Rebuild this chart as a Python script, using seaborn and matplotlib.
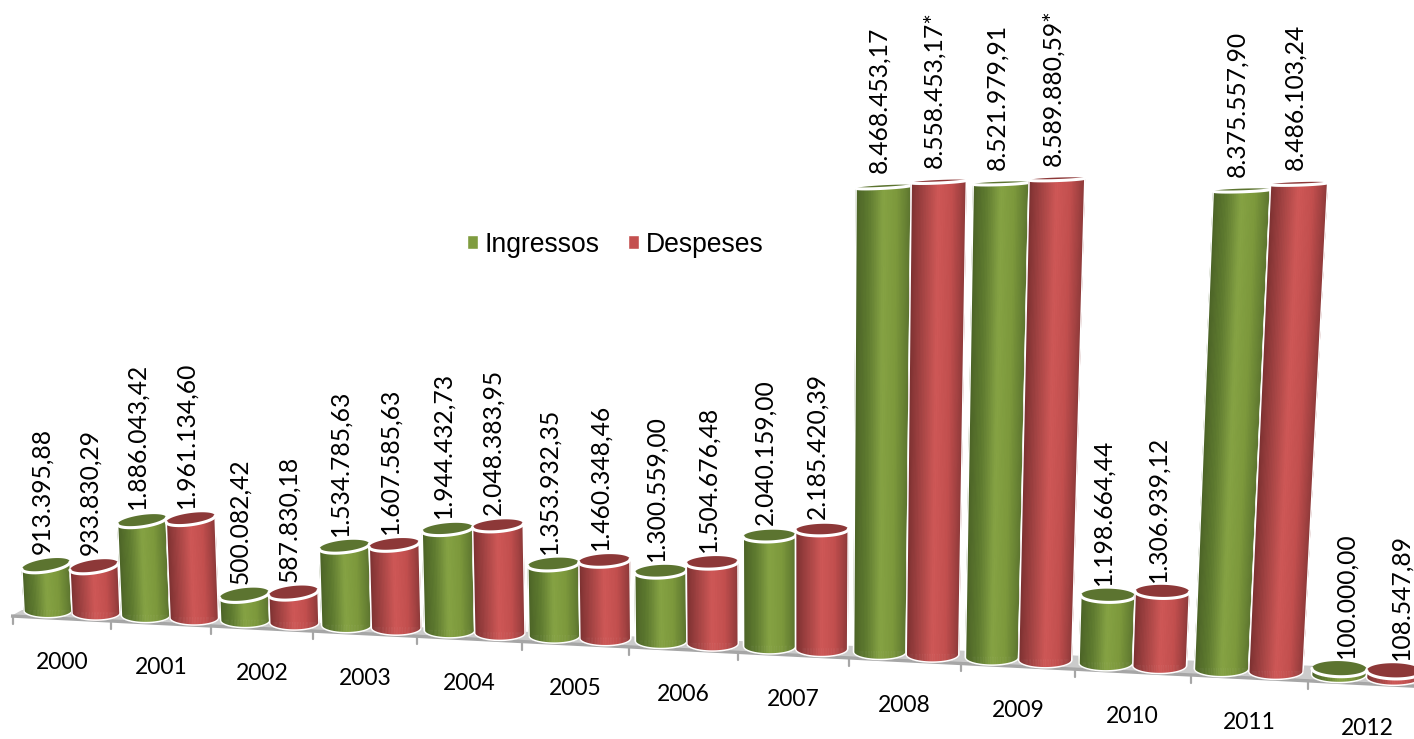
import numpy as np
import pandas as pd
import matplotlib
matplotlib.use("Agg")
import matplotlib.pyplot as plt
import matplotlib.transforms as mtrans
from matplotlib.collections import PolyCollection
from matplotlib.colors import LinearSegmentedColormap
import seaborn as sns

anos = ["2000", "2001", "2002", "2003", "2004", "2005", "2006", "2007", "2008", "2009", "2010", "2011", "2012"]
ingressos = [913395.88, 1886043.42, 500082.42, 1534785.63, 1944432.73, 1353932.35, 1300559.00,
             2040159.00, 8468453.17, 8521979.91, 1198664.44, 8375557.90, 100000.00]
despeses = [933830.29, 1961134.60, 587830.18, 1607585.63, 2048383.95, 1460348.46, 1504676.48,
            2185420.39, 8558453.17, 8589880.59, 1306939.12, 8486103.24, 108547.89]
etiq_ingressos = ["913.395,88", "1.886.043,42", "500.082,42", "1.534.785,63", "1.944.432,73", "1.353.932,35",
                  "1.300.559,00", "2.040.159,00", "8.468.453,17", "8.521.979,91", "1.198.664,44", "8.375.557,90",
                  "100.000,00"]
etiq_despeses = ["933.830,29", "1.961.134,60", "587.830,18", "1.607.585,63", "2.048.383,95", "1.460.348,46",
                 "1.504.676,48", "2.185.420,39", "8.558.453,17*", "8.589.880,59*", "1.306.939,12", "8.486.103,24",
                 "108.547,89"]

W, H = 1414, 739
VERD, VERMELL = "#7F9C3F", "#C4504F"
cmaps = {
    0: (LinearSegmentedColormap.from_list("v", ["#4A6226", "#5F7B30", "#86A344", "#7C983C", "#5C752F"]), "#5C7430"),
    1: (LinearSegmentedColormap.from_list("r", ["#7A3030", "#A54444", "#CF5857", "#C24F4E", "#8E3A3A"]), "#8D3838"),
}


def group_left(g):
    return 24 + 96.5 * g + 0.9 * g ** 2


def group_width(g):
    return 96 + 1.15 * g


def tilt(x):
    return min(-0.03, -0.2 + 0.17 * x / 1000)


def half_minor(y):
    return np.maximum(1.5, 1.5 + (y - 183) * 0.013)


class Projeccio(mtrans.Transform):
    """Data (category, value) -> slanted 3D-looking pixel position for one bar."""
    input_dims = 2
    output_dims = 2

    def __init__(self, xc):
        super().__init__()
        self.xc = xc
        self.g = int(round(xc))

    def base(self, x):
        return group_left(self.g) + (x + 0.5 - self.g) * group_width(self.g)

    def pixels(self, pts):
        pts = np.asarray(pts, float)
        x0 = self.base(pts[:, 0])
        yb = 610.5 + 0.0496 * (x0 - 45)
        escala = 4.95e-5 + (x0 - 45) * 6.5e-9
        h = pts[:, 1] * escala
        inclina = (x0 - 800) * 1e-4 * np.where(x0 < 800, 0.6, 1.0)
        x = x0 + inclina * h
        xc_px = self.base(self.xc)
        pend = np.where(pts[:, 1] > 0, tilt(xc_px), -0.05)
        y = yb - h + pend * (x0 - xc_px)
        return x, y

    def transform_non_affine(self, pts):
        x, y = self.pixels(pts)
        return np.column_stack([x, H - y])


df = pd.DataFrame({
    "any": anos * 2,
    "tipus": ["Ingressos"] * len(anos) + ["Despeses"] * len(anos),
    "valor": ingressos + despeses,
})

sns.set_theme(style="white")
plt.rcParams["font.family"] = ["Lato", "DejaVu Sans"]
fig = plt.figure(figsize=(W / 100, H / 100), dpi=100)
ax = fig.add_axes([0, 0, 1, 1])
sns.barplot(data=df, x="any", y="valor", hue="tipus", palette=[VERD, VERMELL], saturation=1,
            width=1.0, ax=ax, errorbar=None)
ax.set_axis_off()
pix = mtrans.Affine2D().scale(1, -1).translate(0, H)

# Floor
xf = np.array([11.0, W + 5])
yf = 616 + 0.05 * (xf - 11)
ax.add_patch(plt.Polygon(np.column_stack([[11, 22, W + 5, W + 5, 11],
                                          [616, 610, yf[1] - 16, yf[1], 616]]),
                         closed=True, fc="#CBCBCB", ec="none", transform=pix, zorder=0.5))
ax.plot(xf, yf, color="#A6A6A6", lw=2.4, transform=pix, zorder=0.6, solid_capstyle="butt")
for i in range(len(anos) + 1):
    xt = 13 + 97.5 * i + 0.87 * i ** 2
    yt = 616 + 0.05 * (xt - 11)
    ax.plot([xt, xt], [yt, yt + 8], color="#A6A6A6", lw=1.6, transform=pix, zorder=0.6)
    if i < len(anos):
        xm = 13 + 97.5 * (i + .5) + 0.87 * (i + .5) ** 2
        ax.text(xm, 663 + 0.05 * (xm - 62), anos[i], transform=pix, ha="center", va="center",
                fontsize=16.5, color="black")

theta = np.linspace(0, np.pi, 49)
t = (1 - np.cos(theta)) / 2
zo = 2.0
for s, (cont, etiq) in enumerate(zip(ax.containers, (etiq_ingressos, etiq_despeses))):
    cmap, cap = cmaps[s]
    for g, (p, text) in enumerate(zip(cont.patches, etiq)):
        x0, w, v = p.get_x(), p.get_width(), p.get_height()
        xc = x0 + w / 2
        tr = Projeccio(xc)
        p.set_transform(tr)
        p.set_zorder(zo + g + s * .5)
        xs = x0 + w * t
        xb, yb = tr.pixels(np.column_stack([xs, np.zeros_like(xs)]))
        xt, yt = tr.pixels(np.column_stack([xs, np.full_like(xs, v)]))
        bb = half_minor(yb.mean()) * np.sin(theta)
        bt = half_minor(yt.mean()) * np.sin(theta)
        ylo, yhi = yb + bb, yt + bt
        quads = [[(xt[i], yhi[i]), (xt[i + 1], yhi[i + 1]), (xb[i + 1], ylo[i + 1]), (xb[i], ylo[i])]
                 for i in range(len(t) - 1)]
        cols = cmap((t[:-1] + t[1:]) / 2)
        ax.add_collection(PolyCollection(quads, facecolors=cols, edgecolors=cols, linewidths=0.4,
                                         transform=pix, zorder=p.get_zorder() + .01), autolim=False)
        # outline
        contorn = np.vstack([np.column_stack([xt[0], yhi[0]]), np.column_stack([xb, ylo]),
                             np.column_stack([xt[-1], yhi[-1]])])
        ax.plot(contorn[:, 0], contorn[:, 1], color="white", lw=1.1, transform=pix,
                zorder=p.get_zorder() + .02, solid_joinstyle="round")
        # top cap
        tapa = np.vstack([np.column_stack([xt, yt - bt]), np.column_stack([xt[::-1], (yt + bt)[::-1]])])
        ax.add_patch(plt.Polygon(tapa, closed=True, fc=cap, ec="none", transform=pix,
                                 zorder=p.get_zorder() + .03))
        ax.plot(xt, yt + bt, color="white", lw=2.2, transform=pix, zorder=p.get_zorder() + .04,
                solid_capstyle="round")
        # value label
        xl = xt.mean() + (7 if g == len(anos) - 1 else -4.5)
        ytop = (yt - bt).min()
        gap = 3 + max(0, (600 - ytop)) * 0.02
        ax.text(xl, ytop - gap, text, rotation=90, ha="center", va="bottom", transform=pix,
                fontsize=17.7, color="black", zorder=60)

ax.set_xlim(-0.5, 12.5)
sns.move_legend(ax, "center", bbox_to_anchor=(615 / W, 1 - 244.5 / H), ncol=2, frameon=False, title=None,
                fontsize=19.1, handlelength=0.42, handleheight=0.42, handletextpad=0.26, columnspacing=1.05)
for txt in ax.get_legend().get_texts():
    txt.set_fontfamily("Liberation Sans")
    txt.set_fontsize(19.1)
    txt.set_color("black")
fig.savefig("out.png", dpi=100)
